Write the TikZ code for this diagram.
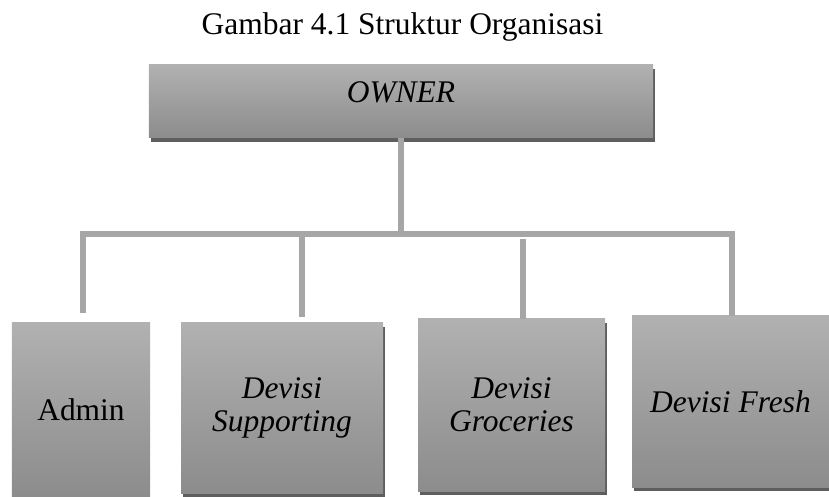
\documentclass[tikz,border=0pt]{standalone}
\usepackage{fontspec}
\setmainfont{Liberation Serif}
\usepackage{xcolor}
\usepackage{tikz}
\usetikzlibrary{shadows}

\definecolor{boxtop}{HTML}{B1B1B1}
\definecolor{boxbot}{HTML}{8C8C8C}
\definecolor{linegray}{HTML}{A6A6A6}
\definecolor{shadowgray}{HTML}{5E5E5E}
\newcommand{\orgfont}{\fontsize{31.6}{33.5}\selectfont}

\begin{document}
\begin{tikzpicture}[x=1bp, y=-1bp,
        flatbox/.style={rectangle, inner sep=0pt, top color=boxtop, bottom color=boxbot,
            font=\orgfont, align=center},
        box/.style={flatbox,
            drop shadow={shadow xshift=2bp, shadow yshift=-4bp, fill=shadowgray, opacity=1}},
        conn/.style={draw=linegray, line width=6bp}]
        \useasboundingbox (0,0) rectangle (829,497);

        \node[anchor=base, font=\orgfont] (title) at (402.5,35) {Gambar 4.1 Struktur Organisasi};
        \node[box, minimum width=504bp, minimum height=73bp, text height=21bp, text depth=18bp] (owner) at (401,101.5) {\textit{OWNER}};
        \node[flatbox, minimum width=138bp, minimum height=174bp] (admin) at (81,410) {Admin};
        \node[box, minimum width=202bp, minimum height=170bp] (supp) at (282,408) {\textit{Devisi}\\\textit{Supporting}};
        \node[box, minimum width=187bp, minimum height=172bp] (groc) at (511.5,405) {\textit{Devisi}\\\textit{Groceries}};
        \node[box, minimum width=197bp, minimum height=171bp] (fresh) at (730.5,401.5) {\textit{Devisi Fresh}};

        \coordinate (hub) at (owner.south |- 0,234);

        \draw[conn] (owner.south) -- (hub);
        \draw[conn, shorten <=10bp] ([xshift=2bp]admin.north) |- (hub) -| ([xshift=1.5bp]fresh.north);
        \draw[conn, shorten >=6bp] ([xshift=20bp]supp.north |- hub) -- ([xshift=20bp]supp.north);
        \draw[conn] ([xshift=11.5bp,yshift=-5bp]groc.north |- hub) -- ([xshift=11.5bp]groc.north);

    \end{tikzpicture}
\end{document}
